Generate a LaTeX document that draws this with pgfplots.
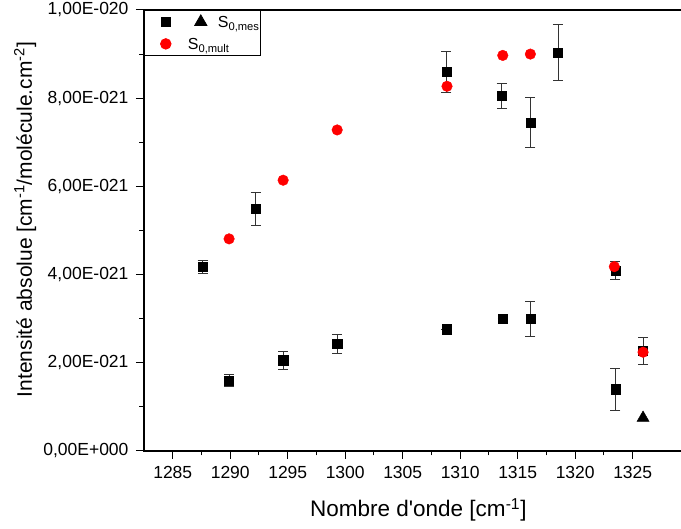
\documentclass[border=0pt]{standalone}
\usepackage{fontspec}
\setmainfont{Liberation Sans}
\usepackage{pgfplots}
\pgfplotsset{compat=1.18}
\usepackage{pgfplotstable}

\pgfplotstableread{
x y e
1287.6 4.17 0.15
1289.9 1.60 0.13
1292.2 5.49 0.38
1294.6 2.06 0.21
1299.3 2.43 0.21
1308.8 8.60 0.46
1308.8 2.76 0
1313.6 8.05 0.29
1313.7 3.00 0
1316.1 7.45 0.57
1316.1 3.00 0.39
1318.5 9.04 0.63
1323.5 4.09 0.20
1323.5 1.40 0.48
1325.9 2.27 0.30
}\mes

\pgfplotstableread{
x y
1325.9 0.75
}\mestri

\pgfplotstableread{
x y
1289.9 4.81
1294.6 6.14
1299.3 7.28
1308.85 8.27
1313.7 8.97
1316.1 9.00
1323.4 4.18
1325.9 2.24
}\mult

\begin{document}
\begin{tikzpicture}
\clip (-144pt,-78pt) rectangle (537pt,451pt);
\begin{axis}[
  at={(0pt,0pt)}, anchor=south west,
  scale only axis,
  width=540pt, height=441pt,
  xmin=1282.5, xmax=1329.46,
  ymin=0, ymax=10,
  xtick={1285,1290,...,1325},
  minor x tick num=1,
  ytick={0,2,4,6,8,10},
  yticklabels={{0,00E+000},{2,00E-021},{4,00E-021},{6,00E-021},{8,00E-021},{1,00E-020}},
  minor y tick num=1,
  tick pos=left,
  tick align=outside,
  major tick length=8pt,
  minor tick length=4.5pt,
  every tick/.style={black, line width=1pt},
  axis line style={line width=1.3pt},
  /pgf/number format/assume math mode=true,
  /pgf/number format/set thousands separator={},
  tick label style={font=\fontsize{17.5}{20}\selectfont},
  xticklabel style={yshift=-4pt},
  yticklabel style={xshift=-4pt},
  xlabel={Nombre d\textquotesingle onde [cm\textsuperscript{-1}]},
  ylabel={Intensité absolue [cm\textsuperscript{-1}/molécule.cm\textsuperscript{-2}]},
  every axis x label/.style={at={(axis description cs:0.508,0)}, yshift=-66pt, anchor=base, font=\fontsize{22.5}{26}\selectfont},
  every axis y label/.style={at={(axis description cs:0,0.525)}, xshift=-112pt, rotate=90, anchor=base, font=\fontsize{21}{25}\selectfont},
  legend style={at={(0,1)}, anchor=north west, draw=black, line width=0.8pt,
    font=\fontsize{16}{19}\selectfont, fill=white, inner xsep=1pt, inner ysep=3.5pt,
    row sep=6pt, column sep=11pt,
    nodes={inner sep=0pt, text height=14pt, text depth=2pt}},
  legend cell align=left,
]
\addplot[only marks, mark=square*, mark size=4.6pt, black,
  legend image code/.code={
    \path (0pt,0pt);
    \draw[black, mark=square*, mark size=4.6pt, mark options={solid}] plot coordinates {(20pt,0pt)};
    \draw[black, mark=triangle*, mark size=7pt, mark options={solid}] plot coordinates {(55pt,0pt)};
  },
  error bars/.cd, y dir=both, y explicit,
  error bar style={line width=0.7pt, black!80},
  error mark options={rotate=90, mark size=5pt, line width=0.7pt, black!80},
  ]
  table[x=x, y=y, y error=e] {\mes};
\addlegendentry{S\textsubscript{0,mes}}
\addplot[only marks, mark=triangle*, mark size=7pt, black, forget plot] table[x=x,y=y] {\mestri};
\addplot[only marks, mark=*, mark size=5.3pt, red, mark options={draw=none, fill=red},
  legend image code/.code={
    \path (0pt,0pt);
    \fill[red] (20pt,0pt) circle[radius=5.3pt];
  }] table[x=x,y=y] {\mult};
\addlegendentry{\hspace*{-30pt}S\textsubscript{0,mult}}
\end{axis}
\end{tikzpicture}
\end{document}
